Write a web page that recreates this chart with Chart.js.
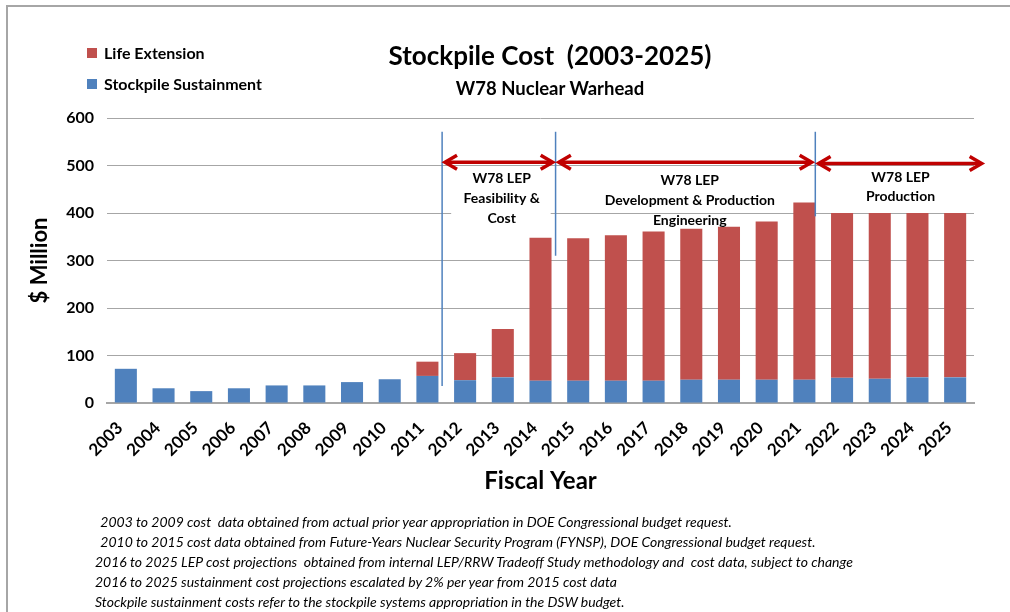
<!DOCTYPE html>
<html>
<head>
<meta charset="utf-8">
<script src="https://cdn.jsdelivr.net/npm/chart.js@4.4.0/dist/chart.umd.min.js"></script>
<style>
  body { margin: 0; background: #fff; }
  #wrap { position: relative; width: 1010px; height: 612px; overflow: hidden; font-family: Lato, "Open Sans", sans-serif; color: #000; }
  #frame { position: absolute; left: 6px; top: 5px; width: 1100px; height: 700px; border-left: 2px solid #a6a6a6; border-top: 2px solid #a6a6a6; }
  #chart { position: absolute; left: 0; top: 0; }
  .title { position: absolute; left: 550px; transform: translateX(-50%); white-space: pre; font-weight: bold; line-height: 1; }
  #legend { position: absolute; left: 87px; top: 37px; font-weight: bold; font-size: 16px; }
  #legend div { height: 31px; display: flex; align-items: center; white-space: nowrap; }
  #legend span.sw { display: inline-block; width: 10px; height: 10px; margin-right: 7px; }
  #notes { position: absolute; left: 0; top: 512px; font-style: italic; font-size: 14px; line-height: 20px; }
  #notes div { position: relative; white-space: pre; height: 20px; }
</style>
</head>
<body>
<div id="wrap">
  <div id="frame"></div>
  <canvas id="chart" width="1010" height="612"></canvas>
  <div class="title" style="top:42px;font-size:26px;">Stockpile Cost  (2003-2025)</div>
  <div class="title" style="top:79px;font-size:18.5px;">W78 Nuclear Warhead</div>
  <div id="legend"></div>
  <div id="notes"><div style="left:97px"> 2003 to 2009 cost  data obtained from actual prior year appropriation in DOE Congressional budget request.</div><div style="left:97px"> 2010 to 2015 cost data obtained from Future-Years Nuclear Security Program (FYNSP), DOE Congressional budget request.</div><div style="left:95px">2016 to 2025 LEP cost projections  obtained from internal LEP/RRW Tradeoff Study methodology and  cost data, subject to change</div><div style="left:95px">2016 to 2025 sustainment cost projections escalated by 2% per year from 2015 cost data</div><div style="left:95px">Stockpile sustainment costs refer to the stockpile systems appropriation in the DSW budget.</div></div>
</div>
<script>
const years = ['2003', '2004', '2005', '2006', '2007', '2008', '2009', '2010', '2011', '2012', '2013', '2014',
  '2015', '2016', '2017', '2018', '2019', '2020', '2021', '2022', '2023', '2024', '2025'];
const sustainment = [72, 31, 25, 31, 37, 37, 44, 50, 57, 48, 54, 47, 47, 47, 47, 49, 49, 49, 49, 53, 51, 54, 54];
const lifeExtension = [0, 0, 0, 0, 0, 0, 0, 0, 30, 57, 102, 301, 300, 306, 314, 318, 322, 333, 373, 347, 349, 346, 346];
const yTicks = [0, 100, 200, 300, 400, 500, 600];

const seriesNames = ['Life Extension', 'Stockpile Sustainment'];
const seriesColors = ['#c0504d', '#4f81bd'];

// phase markers, in category-index units along x and $M along y
const phaseLines = [
  { at: 8.39, from: 36, to: 571 },
  { at: 11.40, from: 310, to: 571 },
  { at: 18.29, from: 393, to: 571 }
];
const phaseArrows = [
  { from: 8.44, to: 11.35, y: 507 },
  { from: 11.46, to: 18.22, y: 507 },
  { from: 18.35, to: 22.73, y: 504 }
];
const phaseText = [
  { x: 9.97, y: [472, 431, 389], lines: ['W78 LEP', 'Feasibility &', 'Cost'], box: [8.63, 11.27, 492, 369] },
  { x: 14.96, y: [468, 427, 385], lines: ['W78 LEP', 'Development & Production', 'Engineering'] },
  { x: 20.55, y: [475, 435], lines: ['W78 LEP', 'Production'] }
];

// legend (html)
const legendEl = document.getElementById('legend');
seriesNames.forEach((name, i) => {
  const row = document.createElement('div');
  row.innerHTML = '<span class="sw" style="background:' + seriesColors[i] + '"></span>' + name;
  legendEl.appendChild(row);
});

const phasePlugin = {
  id: 'phases',
  afterDatasetsDraw(chart) {
    const ctx = chart.ctx;
    const xs = chart.scales.x, ys = chart.scales.y;
    const x0 = xs.getPixelForValue(0);
    const step = xs.getPixelForValue(1) - x0;
    const px = i => x0 + i * step;
    const py = v => ys.getPixelForValue(v);
    ctx.save();

    // white box behind feasibility text
    phaseText.forEach(t => {
      if (!t.box) return;
      ctx.fillStyle = '#fff';
      ctx.fillRect(px(t.box[0]), py(t.box[2]), px(t.box[1]) - px(t.box[0]), py(t.box[3]) - py(t.box[2]));
    });

    ctx.strokeStyle = '#4f81bd';
    ctx.lineWidth = 1.5;
    phaseLines.forEach(l => {
      ctx.beginPath();
      ctx.moveTo(px(l.at), py(l.to));
      ctx.lineTo(px(l.at), py(l.from));
      ctx.stroke();
    });

    ctx.strokeStyle = '#c00000';
    ctx.lineWidth = 3.5;
    ctx.lineJoin = 'miter';
    phaseArrows.forEach(a => {
      const xa = px(a.from), xb = px(a.to), y = py(a.y);
      ctx.beginPath();
      ctx.moveTo(xa + 2, y);
      ctx.lineTo(xb - 2, y);
      ctx.stroke();
      ctx.beginPath();
      ctx.moveTo(xa + 13, y - 7);
      ctx.lineTo(xa + 1, y);
      ctx.lineTo(xa + 13, y + 7);
      ctx.stroke();
      ctx.beginPath();
      ctx.moveTo(xb - 13, y - 7);
      ctx.lineTo(xb - 1, y);
      ctx.lineTo(xb - 13, y + 7);
      ctx.stroke();
    });

    ctx.fillStyle = '#000';
    ctx.font = 'bold 14px Lato';
    ctx.textAlign = 'center';
    ctx.textBaseline = 'middle';
    phaseText.forEach(t => {
      t.lines.forEach((s, k) => ctx.fillText(s, px(t.x), py(t.y[k])));
    });
    ctx.restore();
  }
};

new Chart(document.getElementById('chart'), {
  type: 'bar',
  data: {
    labels: years,
    datasets: [
      { label: seriesNames[1], data: sustainment, backgroundColor: seriesColors[1], order: 1 },
      { label: seriesNames[0], data: lifeExtension, backgroundColor: seriesColors[0], order: 2 }
    ]
  },
  options: {
    responsive: false,
    animation: false,
    layout: { padding: { left: 23, top: 118, right: 36, bottom: 112 } },
    datasets: { bar: { categoryPercentage: 1, barPercentage: 0.585 } },
    plugins: {
      legend: { display: false },
      tooltip: { enabled: false }
    },
    scales: {
      x: {
        stacked: true,
        grid: { display: false },
        border: { display: true, color: '#a6a6a6', width: 2 },
        ticks: {
          color: '#000',
          font: { family: 'Lato', size: 17, weight: 'bold' },
          minRotation: 45, maxRotation: 45,
          padding: 7, labelOffset: -6, autoSkip: false
        },
        title: { display: true, text: 'Fiscal Year', color: '#000', font: { family: 'Lato', size: 24, weight: 'bold' } },
        afterFit: s => { s.height = 97; }
      },
      y: {
        stacked: true,
        min: 0, max: 600,
        afterBuildTicks: s => { s.ticks = yTicks.map(v => ({ value: v })); },
        grid: { color: '#a6a6a6', lineWidth: 1, drawTicks: false },
        border: { display: false },
        ticks: { color: '#000', padding: 13, font: { family: 'Lato', size: 16, weight: 'bold' } },
        title: { display: true, text: '$ Million', color: '#000', font: { family: 'Lato', size: 22, weight: 'bold' } },
        afterFit: s => { s.width = 84; }
      }
    }
  },
  plugins: [phasePlugin]
});
</script>
</body>
</html>
